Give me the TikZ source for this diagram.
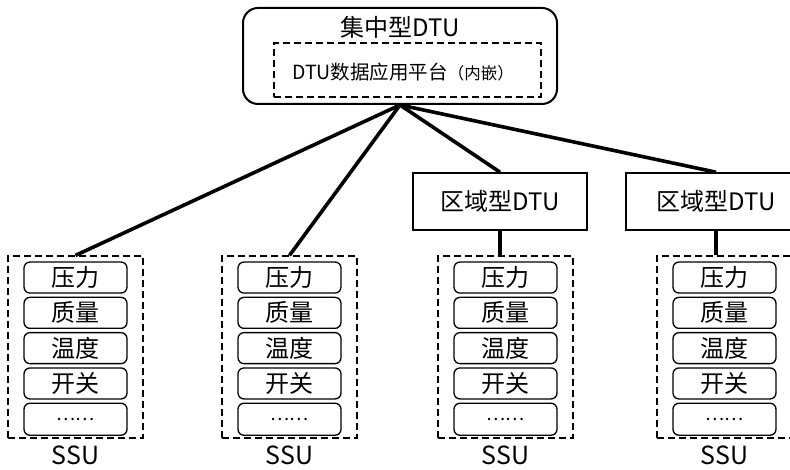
\documentclass[tikz,border=0pt]{standalone}
\usepackage{fontspec}
\setmainfont{Noto Sans CJK SC}
\usetikzlibrary{positioning}

\begin{document}
\begin{tikzpicture}[x=1pt,y=1pt,
    item/.style={draw,line width=1.3pt,rounded corners=6pt,minimum width=103pt,minimum height=31pt,inner sep=0pt,font=\fontsize{24}{24}\selectfont},
    ssubox/.style={draw,line width=1.2pt,dash pattern=on 7pt off 4pt,minimum width=135pt,minimum height=182pt,inner sep=0pt},
    ssulabel/.style={inner sep=0pt,font=\fontsize{25}{25}\selectfont},
    rdtu/.style={draw,line width=1.6pt,minimum height=57pt,inner sep=0pt,font=\fontsize{24}{24}\selectfont},
    conn/.style={line width=3.6pt}]
  \useasboundingbox (0,0) rectangle (790,470);
  \clip (0,0) rectangle (790,470);

  % central DTU
  \node[draw,line width=2pt,rounded corners=15pt,minimum width=314pt,minimum height=96pt,inner sep=0pt] (top) at (400,414) {};
  \node[inner sep=0pt,font=\fontsize{24}{24}\selectfont] (toptitle) at (400,443) {集中型DTU};
  \node[draw,line width=1.2pt,dash pattern=on 7pt off 4pt,minimum width=267pt,minimum height=54pt,inner sep=0pt] (plat) at (407.5,400) {};
  \node[inner sep=0pt,font=\fontsize{19.5}{19.5}\selectfont] (plattext) at (403,398) {DTU数据应用平台{\fontsize{16.5}{16.5}\selectfont（内嵌）}};

  % regional DTUs
  \node[rdtu,minimum width=174pt] (r1) at (500,268.5) {区域型DTU};
  \node[rdtu,minimum width=180pt] (r2) at (716,268.5) {区域型DTU};

  % SSU 1
  \node[ssubox] (s1) at (75.5,123) {};
  \node[item,below=6pt of s1.north] (s1a) {压力};
  \node[item,below=3pt of s1a] (s1b) {质量};
  \node[item,below=3pt of s1b] (s1c) {温度};
  \node[item,below=3pt of s1c] (s1d) {开关};
  \node[item,minimum height=32pt,below=3pt of s1d] (s1e) {{\fontsize{18}{18}\selectfont ……}};
  \node[ssulabel] (l1) at ([yshift=-17pt]s1.south) {SSU};

  % SSU 2
  \node[ssubox] (s2) at (289.5,123) {};
  \node[item,below=6pt of s2.north] (s2a) {压力};
  \node[item,below=3pt of s2a] (s2b) {质量};
  \node[item,below=3pt of s2b] (s2c) {温度};
  \node[item,below=3pt of s2c] (s2d) {开关};
  \node[item,minimum height=32pt,below=3pt of s2d] (s2e) {{\fontsize{18}{18}\selectfont ……}};
  \node[ssulabel] (l2) at ([yshift=-17pt]s2.south) {SSU};

  % SSU 3
  \node[ssubox] (s3) at (505.5,123) {};
  \node[item,below=6pt of s3.north] (s3a) {压力};
  \node[item,below=3pt of s3a] (s3b) {质量};
  \node[item,below=3pt of s3b] (s3c) {温度};
  \node[item,below=3pt of s3c] (s3d) {开关};
  \node[item,minimum height=32pt,below=3pt of s3d] (s3e) {{\fontsize{18}{18}\selectfont ……}};
  \node[ssulabel] (l3) at ([yshift=-17pt]s3.south) {SSU};

  % SSU 4
  \node[ssubox] (s4) at (724.5,123) {};
  \node[item,below=6pt of s4.north] (s4a) {压力};
  \node[item,below=3pt of s4a] (s4b) {质量};
  \node[item,below=3pt of s4b] (s4c) {温度};
  \node[item,below=3pt of s4c] (s4d) {开关};
  \node[item,minimum height=32pt,below=3pt of s4d] (s4e) {{\fontsize{18}{18}\selectfont ……}};
  \node[ssulabel] (l4) at ([yshift=-17pt]s4.south) {SSU};

  % links
  \draw[conn] (top.south) -- (s1.north);
  \draw[conn] (top.south) -- (s2.north);
  \draw[conn] (top.south) -- (r1.north);
  \draw[conn] (top.south) -- (r2.north);
  \draw[conn] (r1.south) -- (r1.south |- s3.north);
  \draw[conn] (r2.south) -- (r2.south |- s4.north);
\end{tikzpicture}
\end{document}
